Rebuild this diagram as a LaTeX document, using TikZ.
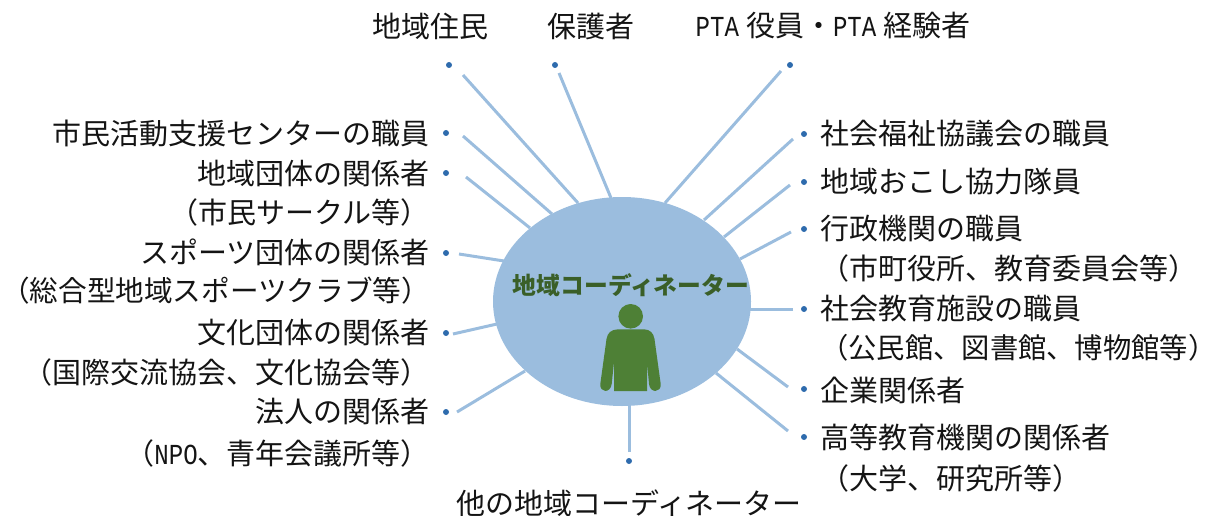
\documentclass[tikz,border=0pt]{standalone}
\usepackage{graphicx}
\usepackage{fontspec}
\setmainfont{Noto Sans CJK JP}
\newfontfamily\latinmono{Liberation Mono}
\newcommand{\halfw}[1]{\scalebox{.83}[1]{\latinmono #1}}
\definecolor{linkblue}{HTML}{9BBDDE}
\definecolor{bodygreen}{HTML}{4E8036}
\definecolor{dotblue}{HTML}{2E6BAD}
\definecolor{titlegreen}{HTML}{3A5F28}
\usetikzlibrary{shapes.geometric}
\tikzset{
  x=1pt,y=-1pt,
  lab/.style={inner sep=0pt,font=\fontsize{29}{34}\selectfont,text=black!92},
  labl/.style={lab,anchor=east},
  labr/.style={lab,anchor=west},
  link/.style={draw=linkblue,line width=3pt},
  dot/.style={circle,fill=dotblue,inner sep=0pt,minimum size=6pt},
  hub/.style={ellipse,fill=linkblue,inner sep=0pt,minimum width=258pt,minimum height=209pt},
}
\begin{document}
\begin{tikzpicture}
\useasboundingbox (0,0) rectangle (1218,516);
% free ends
\coordinate (e1) at (463,75);\coordinate (s1) at (578,203);
\coordinate (e2) at (559,73);\coordinate (s2) at (611,198);
\coordinate (e3) at (781,71);\coordinate (s3) at (665,203);
\coordinate (e4) at (463,136);\coordinate (s4) at (552,214);
\coordinate (e5) at (466,177);\coordinate (s5) at (530,228);
\coordinate (e6) at (459,254);\coordinate (s6) at (504,261);
\coordinate (e7) at (453,334);\coordinate (s7) at (497,324);
\coordinate (e8) at (457,412);\coordinate (s8) at (525,371);
\coordinate (e9) at (793,139);\coordinate (s9) at (704,220);
\coordinate (e10) at (790,185);\coordinate (s10) at (724,237);
\coordinate (e11) at (791,232);\coordinate (s11) at (740,259);
\coordinate (e12) at (793,309);\coordinate (s12) at (750,309);
\coordinate (e13) at (788,387);\coordinate (s13) at (737,349);
\coordinate (e14) at (788,431);\coordinate (s14) at (716,373);
\coordinate (e15) at (629,452);\coordinate (s15) at (629,406);
\foreach \i in {1,...,15}{\draw[link] (e\i) -- (s\i);}
\node[hub] (hub) at (622,301.5) {};
\node[inner sep=0pt,font=\fontsize{23.8}{28}\selectfont\bfseries,text=titlegreen] (title) at (631,285) {地域コーディネーター};
% person
\fill[bodygreen] (630.7,316.3) circle (12.3);
\fill[bodygreen] (618,329.3) -- (644,329.3) .. controls (650,329.5) and (653.5,333) .. (654.5,339) -- (660.7,384) .. controls (661.5,393) and (650,393.5) .. (649,384) -- (647,362) -- (647,391) -- (614,391) -- (614,362) -- (611.7,384) .. controls (610.5,393.5) and (599.5,393) .. (600.3,384) -- (606.5,339) .. controls (607.5,333) and (611,329.5) .. cycle;
% dots
\foreach \n/\p in {d1/{449,65},d2/{555,65},d3/{790,65},d4/{446,133},d5/{446,173},d6/{446,253},d7/{446,333},d8/{446,412},d9/{804,134},d10/{804,182},d11/{804,229},d12/{804,309},d13/{804,389},d14/{804,437},d15/{629,461}}{\node[dot] (\n) at (\p) {};}
% labels
\node[lab] (t1) at (430,26) {地域住民};
\node[lab] (t2) at (591,26) {保護者};
\node[lab] (t3) at (833,26) {\halfw{PTA}\hspace{7pt}役員・\halfw{PTA}\hspace{7pt}経験者};
\node[labl] (t4) at (430,133) {市民活動支援センターの職員};
\node[labl] (t5) at (430,173) {地域団体の関係者};
\node[labl] (t6) at (430,212) {（市民サークル等）};
\node[labl] (t7) at (430,252) {スポーツ団体の関係者};
\node[labl,font=\fontsize{28.6}{34}\selectfont] (t8) at (430,291) {（総合型地域スポーツクラブ等）};
\node[labl] (t9) at (430,332) {文化団体の関係者};
\node[labl] (t10) at (430,372) {（国際交流協会、文化協会等）};
\node[labl] (t11) at (430,412) {法人の関係者};
\node[labl] (t12) at (430,453) {（\halfw{NPO}、青年会議所等）};
\node[labr] (t13) at (820,134) {社会福祉協議会の職員};
\node[labr] (t14) at (820,182) {地域おこし協力隊員};
\node[labr] (t15) at (820,229) {行政機関の職員};
\node[labr] (t16) at (820,268) {（市町役所、教育委員会等）};
\node[labr] (t17) at (820,309) {社会教育施設の職員};
\node[labr,font=\fontsize{28.3}{34}\selectfont] (t18) at (820,348) {（公民館、図書館、博物館等）};
\node[labr] (t19) at (820,390) {企業関係者};
\node[labr] (t20) at (820,437) {高等教育機関の関係者};
\node[labr] (t21) at (820,478) {（大学、研究所等）};
\node[lab] (t22) at (629,503) {他の地域コーディネーター};
\end{tikzpicture}
\end{document}
